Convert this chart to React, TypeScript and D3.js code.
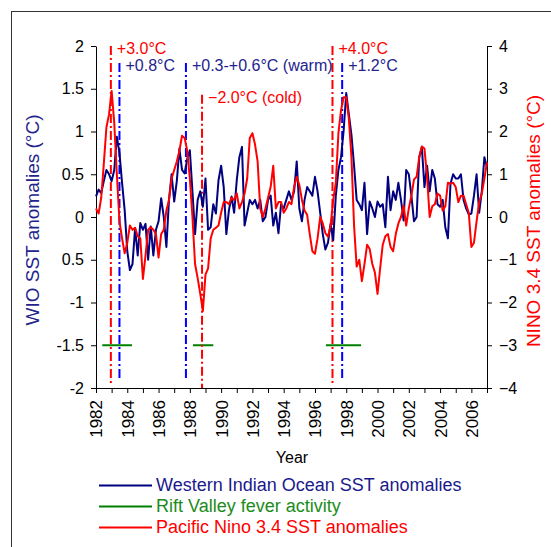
import React, { useRef, useEffect } from 'react';
import * as d3 from 'd3';

// bi-monthly anomalies, first value at 1982.0
const startYear = 1982;
const stepYears = 1 / 6;

const wioSst = [
  0.24, 0.32, 0.28, 0.42, 0.55, 0.50,
  0.42, 0.55, 0.94, 0.75, 0.40, 0.08,
  -0.40, -0.62, -0.55, -0.13, -0.45, -0.07,
  -0.15, -0.08, -0.50, -0.11, -0.45, -0.15,
  -0.05, 0.22, 0.00, -0.35, 0.20, 0.50,
  0.18, 0.42, 0.80, 0.55, 0.51, 0.68,
  0.78, 0.30, -0.20, 0.20, 0.30, 0.12,
  0.45, -0.15, -0.12, 0.15, 0.04, 0.43,
  0.60, 0.35, -0.20, 0.08, 0.24, 0.05,
  0.43, 0.70, 0.82, -0.10, 0.05, 0.20,
  0.15, 0.20, 0.10, 0.20, -0.05, 0.00,
  0.20, 0.25, -0.10, 0.05, -0.19, 0.15,
  0.10, 0.20, 0.30, 0.20, 0.30, 0.65,
  0.10, -0.05, 0.20, 0.35, 0.30, 0.25,
  0.47, 0.30, 0.05, -0.20, -0.38, -0.30,
  -0.08, -0.27, 0.25, 0.55, 0.70, 1.01,
  1.45, 1.20, 0.96, 0.60, 0.20, 0.15,
  0.08, 0.40, -0.20, 0.18, 0.10, 0.00,
  0.18, 0.12, 0.15, -0.12, 0.47, 0.08,
  0.30, 0.20, 0.40, 0.20, -0.04, 0.55,
  0.50, 0.25, -0.05, 0.00, 0.70, 0.82,
  0.35, 0.60, 0.30, 0.55, 0.45, 0.15,
  0.12, 0.20, -0.12, -0.25, 0.39, 0.50,
  0.45, 0.45, 0.50, 0.20, 0.10, 0.03,
  0.04, 0.25, 0.50, 0.05, 0.30, 0.70,
  0.58,
];

const ninoSst = [
  0.20, 0.08, 0.45, 1.25, 2.10, 2.40,
  2.95, 2.20, 1.00, -0.10, -0.50, -0.85,
  -0.60, -0.20, -0.30, -0.25, -0.45, -0.50,
  -1.45, -0.90, -0.30, -0.24, -0.30, -0.40,
  -0.95, -0.40, -0.30, 0.15, 0.40, 0.90,
  1.10, 1.30, 1.55, 1.90, 1.85, 1.55,
  0.90, 0.00, -1.10, -1.43, -1.80, -2.20,
  -1.35, -1.20, -0.50, -0.30, -0.25, -0.20,
  0.10, 0.35, 0.35, 0.30, 0.45, 0.40,
  0.55, 0.20, 0.35, 0.55, 0.90, 1.85,
  1.96, 1.70, 1.30, 0.20, 0.00, 0.20,
  0.45, 0.70, 1.20, 0.20, 0.35, 0.35,
  0.10, 0.20, 0.35, 0.30, 0.70, 0.94,
  0.75, 0.40, 0.15, 0.05, -0.40, -0.80,
  -0.86, -0.50, 0.00, -0.15, -0.38, -0.46,
  -0.20, 0.40, 0.80, 1.96, 2.50, 2.80,
  2.80, 2.30, 1.40, -0.20, -1.16, -1.00,
  -1.50, -1.10, -0.65, -0.75, -1.10, -1.30,
  -1.80, -1.20, -0.65, -0.45, -0.40, -0.70,
  -0.80, -0.40, -0.15, 0.00, 0.27, -0.20,
  0.20, 0.50, 0.88, 0.94, 1.40, 1.65,
  1.60, 0.95, 0.00, 0.25, 0.30, 0.55,
  0.50, 0.15, 0.25, 0.80, 0.78, 0.80,
  0.70, 0.35, 0.50, 0.50, 0.30, 0.10,
  -0.70, -0.60, -0.10, 0.35, 0.55, 0.90,
  1.28,
];

// Rift Valley fever outbreaks [from, to], drawn at -1.5 on the WIO axis
const rvfPeriods = [[1982.4, 1984.3], [1988.2, 1989.5], [1996.7, 1998.95]];
const rvfLevel = -1.5;

// event markers: year, which index, top / bottom in WIO units, label
const eventYears = [1982.95, 1983.5, 1987.75, 1988.78, 1997.12, 1997.74];
const eventKinds = ['nino', 'wio', 'wio', 'nino', 'nino', 'wio'];
const eventTops = [2.0, 1.8, 1.8, 1.43, 2.0, 1.8];
const eventBottoms = [-1.95, -1.9, -1.9, -2.0, -1.95, -1.9];
const eventLabels = ['+3.0°C', '+0.8°C', '+0.3-+0.6°C (warm)', '\u22122.0°C (cold)', '+4.0°C', '+1.2°C'];

const leftTicks = [2, 1.5, 1, 0.5, 0, -0.5, -1, -1.5, -2];
const leftTickLabels = ['2', '1.5', '1', '0.5', '0', '0.5', '-1', '-1.5', '-2'];
const rightTicks = [4, 3, 2, 1, 0, -1, -2, -3, -4];
const legendNames = ['Western Indian Ocean SST anomalies', 'Rift Valley fever activity', 'Pacific Nino 3.4 SST anomalies'];

const FONT = '"Liberation Sans", Arial, sans-serif';
const NAVY = '#000080';
const TEXT_BLUE = '#23238e';
const RED = '#ff0000';
const GREEN = '#008000';

const Chart = () => {
  const svgRef = useRef(null);

  useEffect(() => {
    const width = 551;
    const height = 547;
    const svg = d3.select(svgRef.current);
    svg.selectAll('*').remove();
    svg.attr('width', width).attr('height', height);

    const x = d3.scaleLinear().domain([1982, 2007]).range([96, 487]);
    const yL = d3.scaleLinear().domain([-2, 2]).range([388, 46]);
    const yR = d3.scaleLinear().domain([-4, 4]).range([388, 46]);

    // outer frame
    svg.append('rect')
      .attr('x', 11.5).attr('y', 11.5)
      .attr('width', 600).attr('height', 600)
      .attr('fill', 'none').attr('stroke', '#333').attr('stroke-width', 1);

    // axes
    const left = svg.append('g')
      .attr('transform', 'translate(96,0)')
      .call(d3.axisLeft(yL).tickValues(leftTicks)
        .tickFormat((d, i) => leftTickLabels[i]).tickSize(5).tickSizeOuter(0).tickPadding(7));
    const right = svg.append('g')
      .attr('transform', 'translate(487,0)')
      .call(d3.axisRight(yR).tickValues(rightTicks)
        .tickFormat(d3.format('d')).tickSize(5).tickSizeOuter(0).tickPadding(7));
    const bottom = svg.append('g')
      .attr('transform', 'translate(0,388)')
      .call(d3.axisBottom(x).tickValues(d3.range(1982, 2008))
        .tickFormat(d => (d % 2 === 0 && d < 2007 ? String(d) : '')).tickSize(5).tickSizeOuter(0));

    [left, right, bottom].forEach(g => {
      g.selectAll('path,line').attr('stroke', '#000').attr('stroke-width', 1);
      g.selectAll('text').attr('font-family', FONT).attr('font-size', 16).attr('fill', '#000');
    });
    bottom.selectAll('text')
      .attr('font-size', 17)
      .attr('text-anchor', 'end')
      .attr('dy', '0.35em')
      .attr('x', -12).attr('y', 0)
      .attr('transform', 'rotate(-90)');

    // axis titles
    svg.append('text')
      .attr('transform', 'translate(39,220) rotate(-90)')
      .attr('text-anchor', 'middle')
      .attr('font-family', FONT).attr('font-size', 19).attr('fill', TEXT_BLUE)
      .text('WIO SST anomalies (°C)');
    svg.append('text')
      .attr('transform', 'translate(540,221) rotate(-90)')
      .attr('text-anchor', 'middle')
      .attr('font-family', FONT).attr('font-size', 19).attr('fill', RED)
      .text('NINO 3.4 SST anomalies (°C)');
    svg.append('text')
      .attr('x', 292).attr('y', 463)
      .attr('text-anchor', 'middle')
      .attr('font-family', FONT).attr('font-size', 16).attr('fill', '#000')
      .text('Year');

    // RVF activity bars
    svg.selectAll('.rvf')
      .data(rvfPeriods)
      .enter().append('line')
      .attr('class', 'rvf')
      .attr('x1', d => x(d[0])).attr('x2', d => x(d[1]))
      .attr('y1', yL(rvfLevel)).attr('y2', yL(rvfLevel))
      .attr('stroke', GREEN).attr('stroke-width', 2);

    // event markers
    const events = eventYears.map((year, i) => ({
      year, kind: eventKinds[i], top: eventTops[i], bottom: eventBottoms[i], label: eventLabels[i],
    }));
    svg.selectAll('.event')
      .data(events)
      .enter().append('line')
      .attr('class', 'event')
      .attr('x1', d => x(d.year)).attr('x2', d => x(d.year))
      .attr('y1', d => yL(d.top)).attr('y2', d => yL(d.bottom))
      .attr('stroke', d => (d.kind === 'nino' ? RED : '#0000ff'))
      .attr('stroke-width', 2)
      .attr('stroke-dasharray', '9,3,2,3');
    svg.selectAll('.event-label')
      .data(events)
      .enter().append('text')
      .attr('class', 'event-label')
      .attr('x', d => x(d.year) + 6)
      .attr('y', d => yL(d.top) + 8)
      .attr('font-family', FONT).attr('font-size', 16)
      .attr('fill', d => (d.kind === 'nino' ? RED : TEXT_BLUE))
      .text(d => d.label);

    // series
    const wioLine = d3.line()
      .x((d, i) => x(startYear + i * stepYears))
      .y(d => yL(d));
    const ninoLine = d3.line()
      .x((d, i) => x(startYear + i * stepYears))
      .y(d => yR(d));

    svg.append('path')
      .datum(wioSst)
      .attr('d', wioLine)
      .attr('fill', 'none').attr('stroke', NAVY)
      .attr('stroke-width', 2).attr('stroke-linejoin', 'round');
    svg.append('path')
      .datum(ninoSst)
      .attr('d', ninoLine)
      .attr('fill', 'none').attr('stroke', RED)
      .attr('stroke-width', 2).attr('stroke-linejoin', 'round');

    // legend
    const legendColors = [NAVY, GREEN, RED];
    const legendText = ['#1a1a8c', '#1a8c1a', RED];
    const legend = svg.append('g').attr('transform', 'translate(99,491)');
    legend.selectAll('line')
      .data(legendNames)
      .enter().append('line')
      .attr('x1', 0).attr('x2', 53)
      .attr('y1', (d, i) => i * 21 - 5.5).attr('y2', (d, i) => i * 21 - 5.5)
      .attr('stroke', (d, i) => legendColors[i]).attr('stroke-width', 2);
    legend.selectAll('text')
      .data(legendNames)
      .enter().append('text')
      .attr('x', 57)
      .attr('y', (d, i) => i * 21)
      .attr('font-family', FONT).attr('font-size', 18)
      .attr('fill', (d, i) => legendText[i])
      .text(d => d);
  }, []);

  return <svg ref={svgRef} style={{ position: 'absolute', left: 0, top: 0 }}></svg>;
};

export default function App() {
  return <Chart />;
}
